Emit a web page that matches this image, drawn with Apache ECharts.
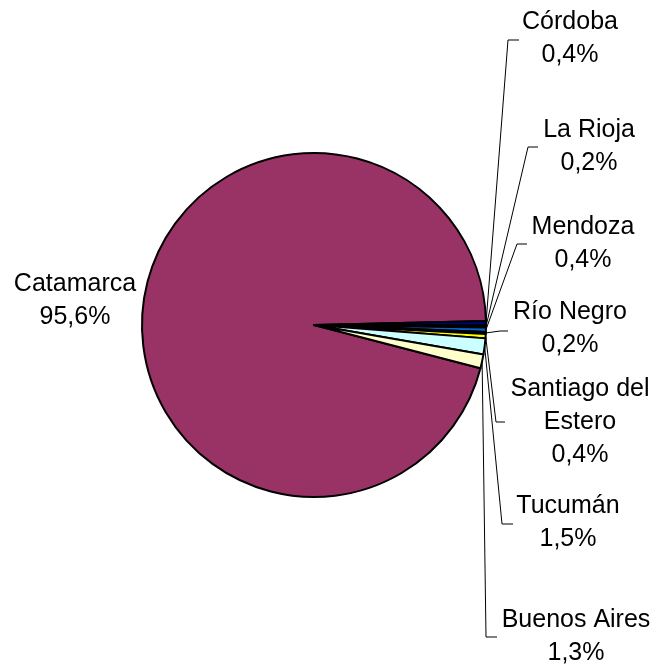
<!DOCTYPE html>
<html>
<head>
<meta charset="utf-8">
<script src="https://cdn.jsdelivr.net/npm/echarts@6/dist/echarts.min.js"></script>
<style>html,body{margin:0;padding:0;background:#fff}#c{width:661px;height:666px}</style>
</head>
<body>
<div id="c"></div>
<script>
var categories = ['Catamarca', 'Córdoba', 'La Rioja', 'Mendoza', 'Río Negro', 'Santiago del Estero', 'Tucumán', 'Buenos Aires'];
var shares = [95.6, 0.4, 0.2, 0.4, 0.2, 0.4, 1.5, 1.3];
var colors = ['#993366', '#000080', '#FF8080', '#0066CC', '#660066', '#FFFF00', '#CCFFFF', '#FFFFCC'];

// label placement (layout only): text centre and leader-line elbow
var labelPlace = [
  {c: [75, 301]},
  {c: [570, 39], e: [[508, 40], [519, 40]]},
  {c: [589, 147], e: [[528, 147], [538, 147]]},
  {c: [583, 244], e: [[517, 244], [527, 244]]},
  {c: [570, 329], e: [[500, 331], [508, 331]]},
  {c: [580, 422], e: [[496, 422], [505, 422]]},
  {c: [568, 523], e: [[502, 524], [513, 524]]},
  {c: [576, 637], e: [[486, 637], [497, 637]]}
];

var chart = echarts.init(document.getElementById('c'), null, {renderer: 'canvas'});
var data = categories.map(function (n, i) {
  return {
    name: n, value: shares[i],
    itemStyle: {color: colors[i]},
    labelLine: {show: i !== 0}
  };
});
chart.setOption({
  animation: false,
  backgroundColor: '#ffffff',
  series: [{
    type: 'pie',
    center: [314, 325],
    radius: [0, 172],
    startAngle: 345.46,
    clockwise: true,
    avoidLabelOverlap: false,
    itemStyle: {borderColor: '#000000', borderWidth: 2},
    emphasis: {disabled: true},
    label: {
      show: true,
      position: 'outside',
      color: '#000000',
      fontFamily: 'Liberation Sans, Arial, sans-serif',
      fontSize: 25,
      lineHeight: 33,
      align: 'center',
      formatter: function (p) {
        return p.name.replace('del ', 'del\n') + '\n' + p.value.toFixed(1).replace('.', ',') + '%';
      }
    },
    labelLine: {show: true, length: 10, length2: 10, lineStyle: {color: '#000000', width: 1}},
    labelLayout: function (params) {
      var lp = labelPlace[params.dataIndex];
      var res = {x: lp.c[0], y: lp.c[1], align: 'center', verticalAlign: 'middle'};
      if (lp.e && params.labelLinePoints) {
        res.labelLinePoints = [params.labelLinePoints[0], lp.e[0], lp.e[1]];
      }
      return res;
    },
    data: data
  }]
});
</script>
</body>
</html>
